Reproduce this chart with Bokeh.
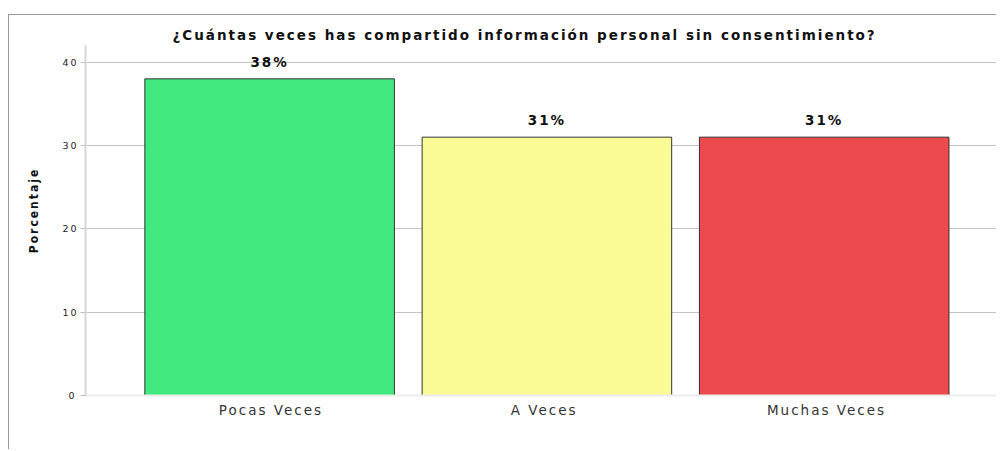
from bokeh.plotting import figure
from bokeh.models import ColumnDataSource, FixedTicker, Range1d, LabelSet, LinearAxis
from bokeh.core.properties import value
from bokeh.embed import file_html
from bokeh.resources import INLINE

title_text = "¿Cuántas veces has compartido información personal sin consentimiento?"
categories = ["Pocas Veces", "A Veces", "Muchas Veces"]
percentages = [38, 31, 31]
labels = ["38%", "31%", "31%"]
colors = ["#42E97F", "#FCFC96", "#EC4A4C"]
y_ticks = [0, 10, 20, 30, 40]

xpos = list(range(len(categories)))
source = ColumnDataSource(dict(x=xpos, top=percentages, lab=labels, color=colors))

FONT = "DejaVu Sans"
X0, X1 = -0.664, 2.625
SHIFT = 0.035  # visual compensation for letter spacing of category labels

p = figure(width=988, height=435, output_backend="svg", toolbar_location=None,
           x_range=Range1d(X0, X1), y_range=Range1d(0, 42),
           x_axis_location=None,
           min_border_left=76, min_border_right=0, min_border_top=30, min_border_bottom=55)
p.styles = {"border-left": "1px solid #9a9a9a", "border-top": "1px solid #9a9a9a",
            "margin-top": "14px", "margin-left": "8px", "letter-spacing": "2px"}
p.outline_line_color = None
p.background_fill_color = "white"

p.title.text = title_text
p.title.align = "left"
p.title.offset = 87
p.title.standoff = 6
p.title.text_font = FONT
p.title.text_font_size = "13.5px"
p.title.text_font_style = "bold"
p.title.text_color = "#111111"

p.vbar(x="x", top="top", bottom=0, width=0.9, source=source, fill_color="color",
       line_color="#333333", line_width=1)

p.add_layout(LabelSet(x="x", y="top", text="lab", source=source, y_offset=9, x_offset=-3,
                      text_align="center", text_baseline="bottom",
                      text_font=value(FONT), text_font_size="13.5px",
                      text_font_style="bold", text_color="#111111"))

# y axis
p.yaxis.ticker = FixedTicker(ticks=y_ticks)
p.yaxis.axis_label = "Porcentaje"
p.yaxis.axis_label_text_font = "DejaVu Sans Condensed"
p.yaxis.axis_label_text_font_style = "bold"
p.yaxis.axis_label_text_font_size = "12px"
p.yaxis.axis_label_text_color = "#111111"
p.yaxis.axis_label_standoff = 18
p.yaxis.major_label_text_font = FONT
p.yaxis.major_label_text_font_size = "9.5px"
p.yaxis.major_label_text_color = "#222222"
p.yaxis.major_label_standoff = 6
p.yaxis.axis_line_color = "#d6d6d6"
p.yaxis.axis_line_width = 2
p.yaxis.major_tick_line_color = "#c0c0c0"
p.yaxis.major_tick_out = 5
p.yaxis.major_tick_in = 0
p.yaxis.minor_tick_line_color = None

# x axis (range shifted slightly so letter-spaced labels stay centred under bars)
p.extra_x_ranges = {"lab": Range1d(X0 + SHIFT, X1 + SHIFT)}
xaxis = LinearAxis(x_range_name="lab", ticker=FixedTicker(ticks=xpos),
                   major_label_overrides={i: c for i, c in zip(xpos, categories)})
xaxis.major_label_text_font = FONT
xaxis.major_label_text_font_size = "13.5px"
xaxis.major_label_text_color = "#333333"
xaxis.major_label_standoff = 0
xaxis.axis_line_color = "#ececec"
xaxis.axis_line_width = 2
xaxis.major_tick_line_color = None
xaxis.minor_tick_line_color = None
p.add_layout(xaxis, "below")

p.xgrid.grid_line_color = None
p.ygrid.grid_line_color = "#c4c4c4"
p.ygrid.ticker = FixedTicker(ticks=[10, 20, 30, 40])

open("out.html", "w").write(file_html(p, INLINE))
